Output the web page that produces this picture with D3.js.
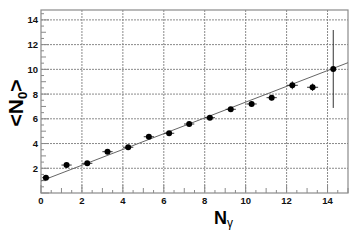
<!DOCTYPE html>
<html>
<head>
<meta charset="utf-8">
<script src="https://cdn.jsdelivr.net/npm/d3@7"></script>
<style>
  body { margin: 0; background: #fff; }
  svg { display: block; font-family: "Liberation Sans", Arial, sans-serif; }
</style>
</head>
<body>
<svg id="chart"></svg>
<script>
// data
var nGamma = [0.24, 1.25, 2.26, 3.25, 4.26, 5.27, 6.26, 7.24, 8.25, 9.27, 10.29, 11.27, 12.28, 13.27, 14.28]
var meanN0 = [1.24, 2.26, 2.40, 3.34, 3.70, 4.55, 4.83, 5.58, 6.09, 6.77, 7.20, 7.71, 8.71, 8.55, 10.03]
var xErr = [0.18, 0.25, 0.25, 0.25, 0.25, 0.25, 0.25, 0.25, 0.25, 0.25, 0.25, 0.25, 0.27, 0.27, 0.1]
var yErr = [0.05, 0.08, 0.08, 0.1, 0.1, 0.12, 0.12, 0.15, 0.15, 0.18, 0.2, 0.22, 0.32, 0.3, 3.15]
var xTicks = [0, 2, 4, 6, 8, 10, 12, 14]
var yTicks = [2, 4, 6, 8, 10, 12, 14]
// straight line fit: p0 + p1 * x
var fitPar = [0.97, 0.638]

var width = 354,
    height = 245

var svg = d3.select("#chart")
    .attr("width", width)
    .attr("height", height)

var x = d3.scaleLinear().domain([0, 15]).range([41, 348])
var y = d3.scaleLinear().domain([0, 14.8]).range([193, 10])

var gridColor = "#8a8a8a"
var frameColor = "#8a8a8a"

// grid
svg.append("g").selectAll("line")
    .data(xTicks.filter(d => d > 0))
    .enter().append("line")
    .attr("x1", d => x(d)).attr("x2", d => x(d))
    .attr("y1", y(14.8)).attr("y2", y(0))
    .attr("stroke", gridColor)
    .attr("stroke-width", 1)
    .attr("stroke-dasharray", "2,1")

svg.append("g").selectAll("line")
    .data(yTicks)
    .enter().append("line")
    .attr("x1", x(0)).attr("x2", x(15))
    .attr("y1", d => y(d)).attr("y2", d => y(d))
    .attr("stroke", gridColor)
    .attr("stroke-width", 1)
    .attr("stroke-dasharray", "2,1")

// minor ticks every 0.5, medium at odd numbers, major every 2
function tickLen(v) {
    if (Math.abs(v % 2) < 1e-6) return 8
    if (Math.abs(v % 1) < 1e-6) return 5
    return 3
}
var xMinor = d3.range(0, 15.01, 0.5)
var yMinor = d3.range(0, 14.81, 0.5)

svg.append("g").selectAll("line")
    .data(xMinor)
    .enter().append("line")
    .attr("x1", d => x(d)).attr("x2", d => x(d))
    .attr("y1", y(0)).attr("y2", d => y(0) - tickLen(d))
    .attr("stroke", frameColor)

svg.append("g").selectAll("line")
    .data(yMinor)
    .enter().append("line")
    .attr("x1", x(0)).attr("x2", d => x(0) + tickLen(d))
    .attr("y1", d => y(d)).attr("y2", d => y(d))
    .attr("stroke", frameColor)

// frame
svg.append("rect")
    .attr("x", x(0)).attr("y", y(14.8))
    .attr("width", x(15) - x(0))
    .attr("height", y(0) - y(14.8))
    .attr("fill", "none")
    .attr("stroke", frameColor)
    .attr("stroke-width", 1.2)

// tick labels
svg.append("g").selectAll("text")
    .data(xTicks)
    .enter().append("text")
    .attr("x", d => x(d))
    .attr("y", y(0) + 11)
    .attr("text-anchor", "middle")
    .attr("font-size", "9.5px")
    .attr("font-weight", "bold")
    .attr("fill", "#111")
    .text(d => d)

svg.append("g").selectAll("text")
    .data(yTicks)
    .enter().append("text")
    .attr("x", x(0) - 3)
    .attr("y", d => y(d) + 3.5)
    .attr("text-anchor", "end")
    .attr("font-size", "9.5px")
    .attr("font-weight", "bold")
    .attr("fill", "#111")
    .text(d => d)

// fit line
svg.append("line")
    .attr("x1", x(0)).attr("y1", y(fitPar[0]))
    .attr("x2", x(15)).attr("y2", y(fitPar[0] + fitPar[1] * 15))
    .attr("stroke", "#666")
    .attr("stroke-width", 1)

// points with error bars
var pts = nGamma.map((v, i) => ({ x: v, y: meanN0[i], ex: xErr[i], ey: yErr[i] }))

var g = svg.append("g").selectAll("g")
    .data(pts)
    .enter().append("g")

g.append("line")
    .attr("x1", d => x(d.x - d.ex)).attr("x2", d => x(d.x + d.ex))
    .attr("y1", d => y(d.y)).attr("y2", d => y(d.y))
    .attr("stroke", "#333")
g.append("line")
    .attr("x1", d => x(d.x)).attr("x2", d => x(d.x))
    .attr("y1", d => y(d.y - d.ey)).attr("y2", d => y(d.y + d.ey))
    .attr("stroke", "#333")
g.append("circle")
    .attr("cx", d => x(d.x))
    .attr("cy", d => y(d.y))
    .attr("r", 3)
    .attr("fill", "#000")

// axis titles
var yt = svg.append("text")
    .attr("transform", "translate(23,103) rotate(-90)")
    .attr("text-anchor", "middle")
    .attr("font-size", "21px")
    .attr("font-weight", "bold")
    .attr("fill", "#000")
yt.append("tspan").text("<N")
yt.append("tspan").attr("font-size", "13px").attr("dy", 4).text("0")
yt.append("tspan").attr("dy", -4).text(">")

var xt = svg.append("text")
    .attr("x", 214)
    .attr("y", 224)
    .attr("font-size", "18px")
    .attr("font-weight", "bold")
    .attr("fill", "#000")
xt.append("tspan").text("N")
xt.append("tspan").attr("font-size", "12px").attr("font-weight", "normal").attr("dy", 3).text("γ")
</script>
</body>
</html>
